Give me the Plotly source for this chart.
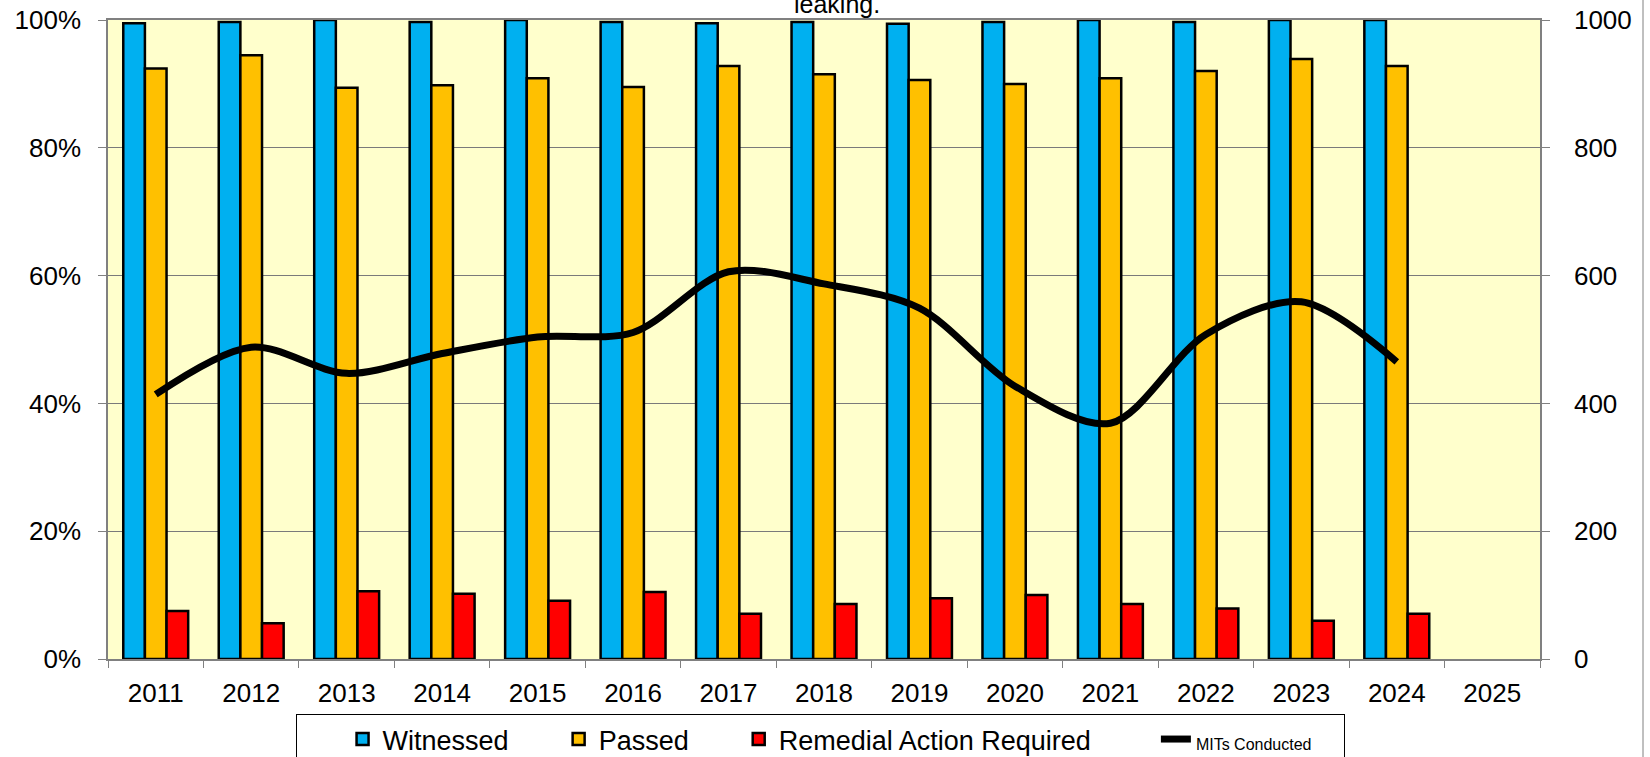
import plotly.graph_objects as go

years = ["2011", "2012", "2013", "2014", "2015", "2016", "2017", "2018",
         "2019", "2020", "2021", "2022", "2023", "2024", "2025"]
witnessed = [99.5, 99.7, 100, 99.7, 100, 99.7, 99.5, 99.7, 99.4, 99.7, 100, 99.7, 100, 100, None]
passed = [92.4, 94.5, 89.4, 89.8, 90.9, 89.5, 92.8, 91.5, 90.6, 90.0, 90.9, 92.0, 93.9, 92.8, None]
remedial = [7.5, 5.6, 10.6, 10.2, 9.1, 10.5, 7.1, 8.6, 9.5, 10.0, 8.6, 7.9, 6.0, 7.1, None]
mits = [414, 488, 447, 478, 504, 511, 606, 587, 549, 427, 369, 508, 559, 465, None]

FONT = "Arial, Liberation Sans, sans-serif"
NB = "&nbsp;"
fig = go.Figure()
bar_line = dict(color="black", width=2.5)
fig.add_trace(go.Bar(x=years, y=witnessed, name="Witnessed" + NB * 6,
                     marker=dict(color="#00B0F0", line=bar_line)))
fig.add_trace(go.Bar(x=years, y=passed, name="Passed" + NB * 6,
                     marker=dict(color="#FFC000", line=bar_line)))
fig.add_trace(go.Bar(x=years, y=remedial, name="Remedial Action Required" + NB * 8,
                     marker=dict(color="#FF0000", line=bar_line)))
fig.add_trace(go.Scatter(x=years, y=mits, yaxis="y2", mode="lines",
                         name="<span style='font-size:16px'>MITs Conducted" + NB * 6 + "</span>",
                         line=dict(color="black", width=7, shape="spline", smoothing=0.9)))

fig.update_layout(
    width=1650, height=757,
    margin=dict(l=108, r=110, t=20, b=98, autoexpand=False),
    paper_bgcolor="white", plot_bgcolor="#FFFFCC",
    font=dict(family=FONT, size=26, color="black"),
    barmode="group", bargap=0.32, bargroupgap=0,
    showlegend=True,
    legend=dict(orientation="h", xref="container", yref="container",
                x=296 / 1650, xanchor="left", y=1 - 714 / 757, yanchor="top",
                bordercolor="black", borderwidth=1, bgcolor="white",
                title=dict(text=NB * 4, side="left"),
                font=dict(size=27, family=FONT)),
    xaxis=dict(type="category", showline=True, linecolor="#808080", linewidth=1.5,
               mirror=True, ticks="outside", tickson="boundaries", ticklen=7,
               tickcolor="#808080", showgrid=False, ticklabelstandoff=10,
               automargin=False),
    yaxis=dict(range=[0, 100], dtick=20, ticksuffix="%", showline=True,
               linecolor="#808080", linewidth=1.5, mirror=True, ticks="outside",
               ticklen=8, tickcolor="#808080", showgrid=True, gridcolor="#7a7a7a",
               gridwidth=1, ticklabelstandoff=12, zeroline=False,
               automargin=False, ticklabeloverflow="allow"),
    yaxis2=dict(range=[0, 1000], dtick=200, overlaying="y", side="right",
                showgrid=False, ticks="outside", ticklen=8, tickcolor="#808080",
                showline=True, linecolor="#808080", linewidth=1.5,
                ticklabelstandoff=19, zeroline=False,
                automargin=False, ticklabeloverflow="allow"),
    annotations=[dict(text="leaking.", x=0.509, xref="paper", y=1.025, yref="paper",
                      xanchor="center", yanchor="middle", showarrow=False,
                      font=dict(size=25, family=FONT))],
    shapes=[dict(type="line", xref="paper", yref="paper",
                 x0=(1643 - 108) / 1432, x1=(1643 - 108) / 1432,
                 y0=-0.2, y1=1.05, line=dict(color="#808080", width=1))],
)

fig.write_html("out.html")
